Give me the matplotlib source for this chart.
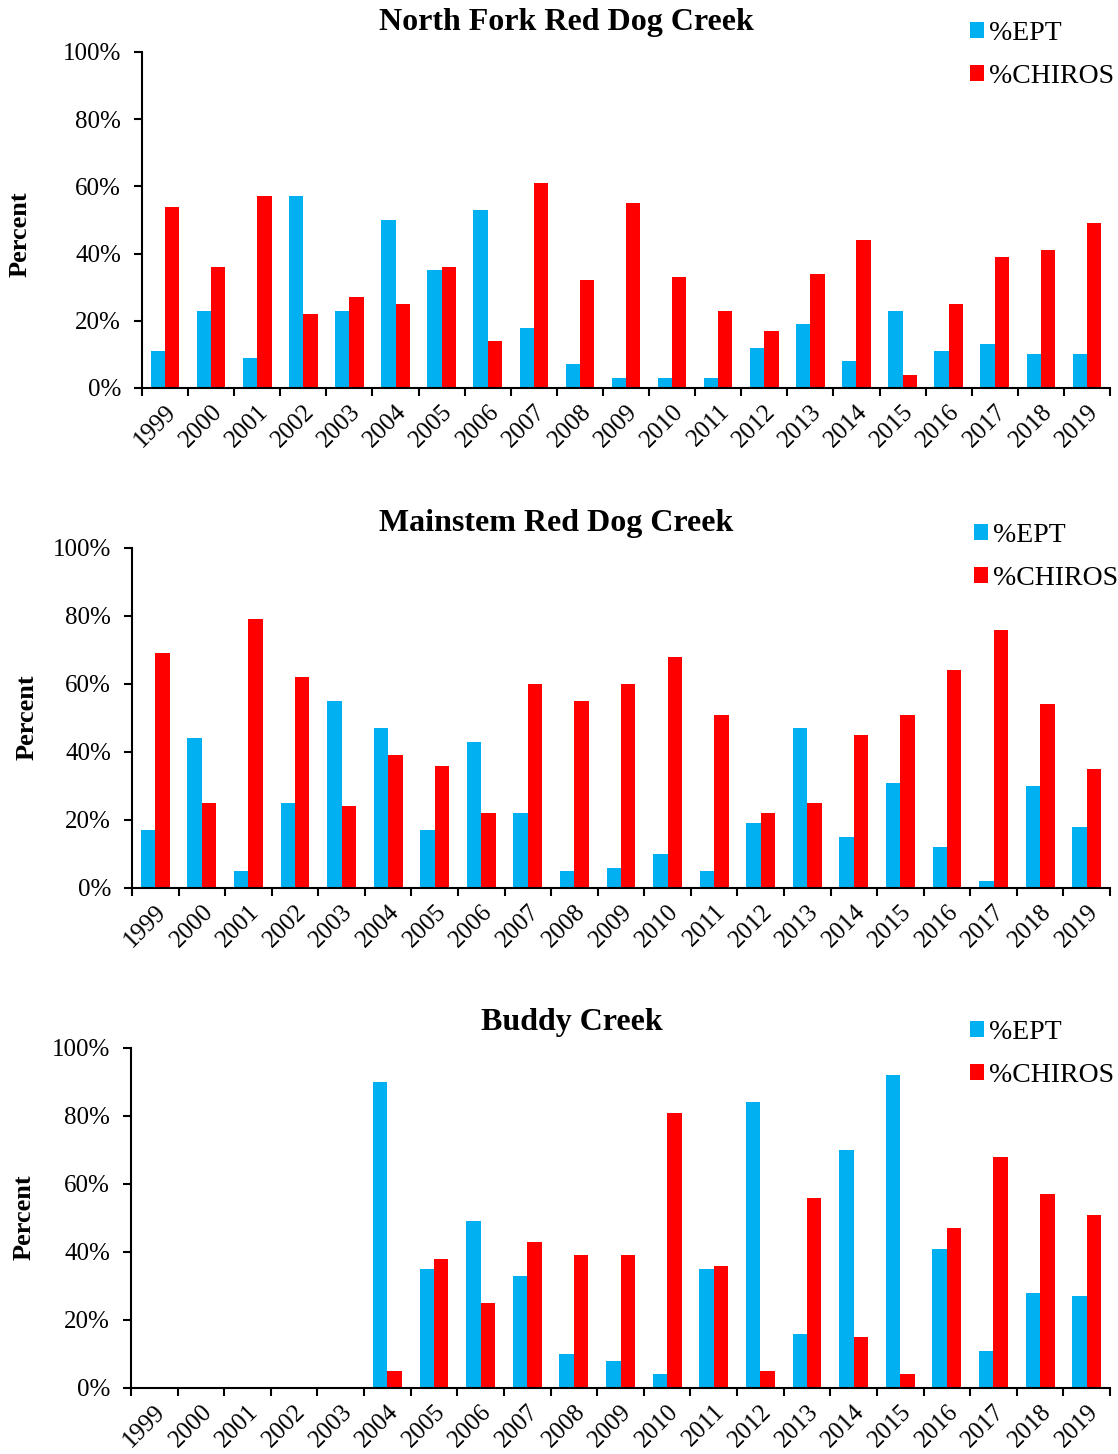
import numpy as np
import matplotlib.pyplot as plt
from matplotlib.ticker import PercentFormatter, FixedLocator

plt.rcParams['font.family'] = ['Liberation Serif', 'DejaVu Serif']

years = [str(y) for y in range(1999, 2020)]

# North Fork Red Dog Creek
nf_ept = [11, 23, 9, 57, 23, 50, 35, 53, 18, 7, 3, 3, 3, 12, 19, 8, 23, 11, 13, 10, 10]
nf_chiros = [54, 36, 57, 22, 27, 25, 36, 14, 61, 32, 55, 33, 23, 17, 34, 44, 4, 25, 39, 41, 49]

# Mainstem Red Dog Creek
ms_ept = [17, 44, 5, 25, 55, 47, 17, 43, 22, 5, 6, 10, 5, 19, 47, 15, 31, 12, 2, 30, 18]
ms_chiros = [69, 25, 79, 62, 24, 39, 36, 22, 60, 55, 60, 68, 51, 22, 25, 45, 51, 64, 76, 54, 35]

# Buddy Creek (no samples before 2004)
bc_ept = [0, 0, 0, 0, 0, 90, 35, 49, 33, 10, 8, 4, 35, 84, 16, 70, 92, 41, 11, 28, 27]
bc_chiros = [0, 0, 0, 0, 0, 5, 38, 25, 43, 39, 39, 81, 36, 5, 56, 15, 4, 47, 68, 57, 51]

W, H = 1118, 1454

# title, data, axes box in px (left, top, right, bottom), title centre x / baseline y,
# ylabel centre (x, y), legend upper-left (x, y)
panels = [
    ("North Fork Red Dog Creek", nf_ept, nf_chiros, (142, 52, 1110, 388), (566, 30), (20, 234), (970, 21)),
    ("Mainstem Red Dog Creek", ms_ept, ms_chiros, (132, 548, 1110, 888), (556, 531), (27, 717), (974, 523)),
    ("Buddy Creek", bc_ept, bc_chiros, (131, 1048, 1110, 1388), (572, 1030), (24, 1217), (970, 1020)),
]

blue = '#00B0F0'
red = '#FF0000'

fig = plt.figure(figsize=(W / 100, H / 100), dpi=100)

for title, ept, chiros, box, tpos, ypos, lpos in panels:
    l, t, r, b = box
    ax = fig.add_axes([l / W, 1 - b / H, (r - l) / W, (b - t) / H])
    x = np.arange(len(years))
    w = 0.31
    b1 = ax.bar(x - w / 2, np.array(ept) / 100, w, color=blue, label='%EPT')
    b2 = ax.bar(x + w / 2, np.array(chiros) / 100, w, color=red, label='%CHIROS')
    ax.set_xlim(-0.5, len(years) - 0.5)
    ax.set_ylim(0, 1)
    ax.set_yticks(np.arange(0, 1.01, 0.2))
    ax.yaxis.set_major_formatter(PercentFormatter(1.0, decimals=0))
    ax.set_xticks(x)
    ax.set_xticklabels(years, rotation=45, ha='right', rotation_mode='anchor', fontsize=18)
    ax.tick_params(axis='x', which='major', length=0, pad=9)
    ax.xaxis.set_minor_locator(FixedLocator(np.arange(-0.5, len(years), 1.0)))
    ax.tick_params(axis='x', which='minor', length=6, width=1.5, direction='out')
    ax.tick_params(axis='y', length=6, width=1.5, direction='out', labelsize=18, pad=9)
    for s in ['top', 'right']:
        ax.spines[s].set_visible(False)
    for s in ['left', 'bottom']:
        ax.spines[s].set_linewidth(1.5)

    fig.text(tpos[0] / W, 1 - tpos[1] / H, title, fontsize=23, fontweight='bold',
             ha='center', va='baseline')
    fig.text(ypos[0] / W, 1 - ypos[1] / H, 'Percent', fontsize=19, fontweight='bold',
             rotation=90, ha='center', va='center')
    fig.legend(handles=[b1, b2], loc='upper left', bbox_to_anchor=(lpos[0] / W, 1 - lpos[1] / H),
               frameon=False, fontsize=20, handlelength=0.5, handleheight=0.5,
               handletextpad=0.2, labelspacing=0.65, borderaxespad=0, borderpad=0)

fig.savefig('out.png', dpi=100)
